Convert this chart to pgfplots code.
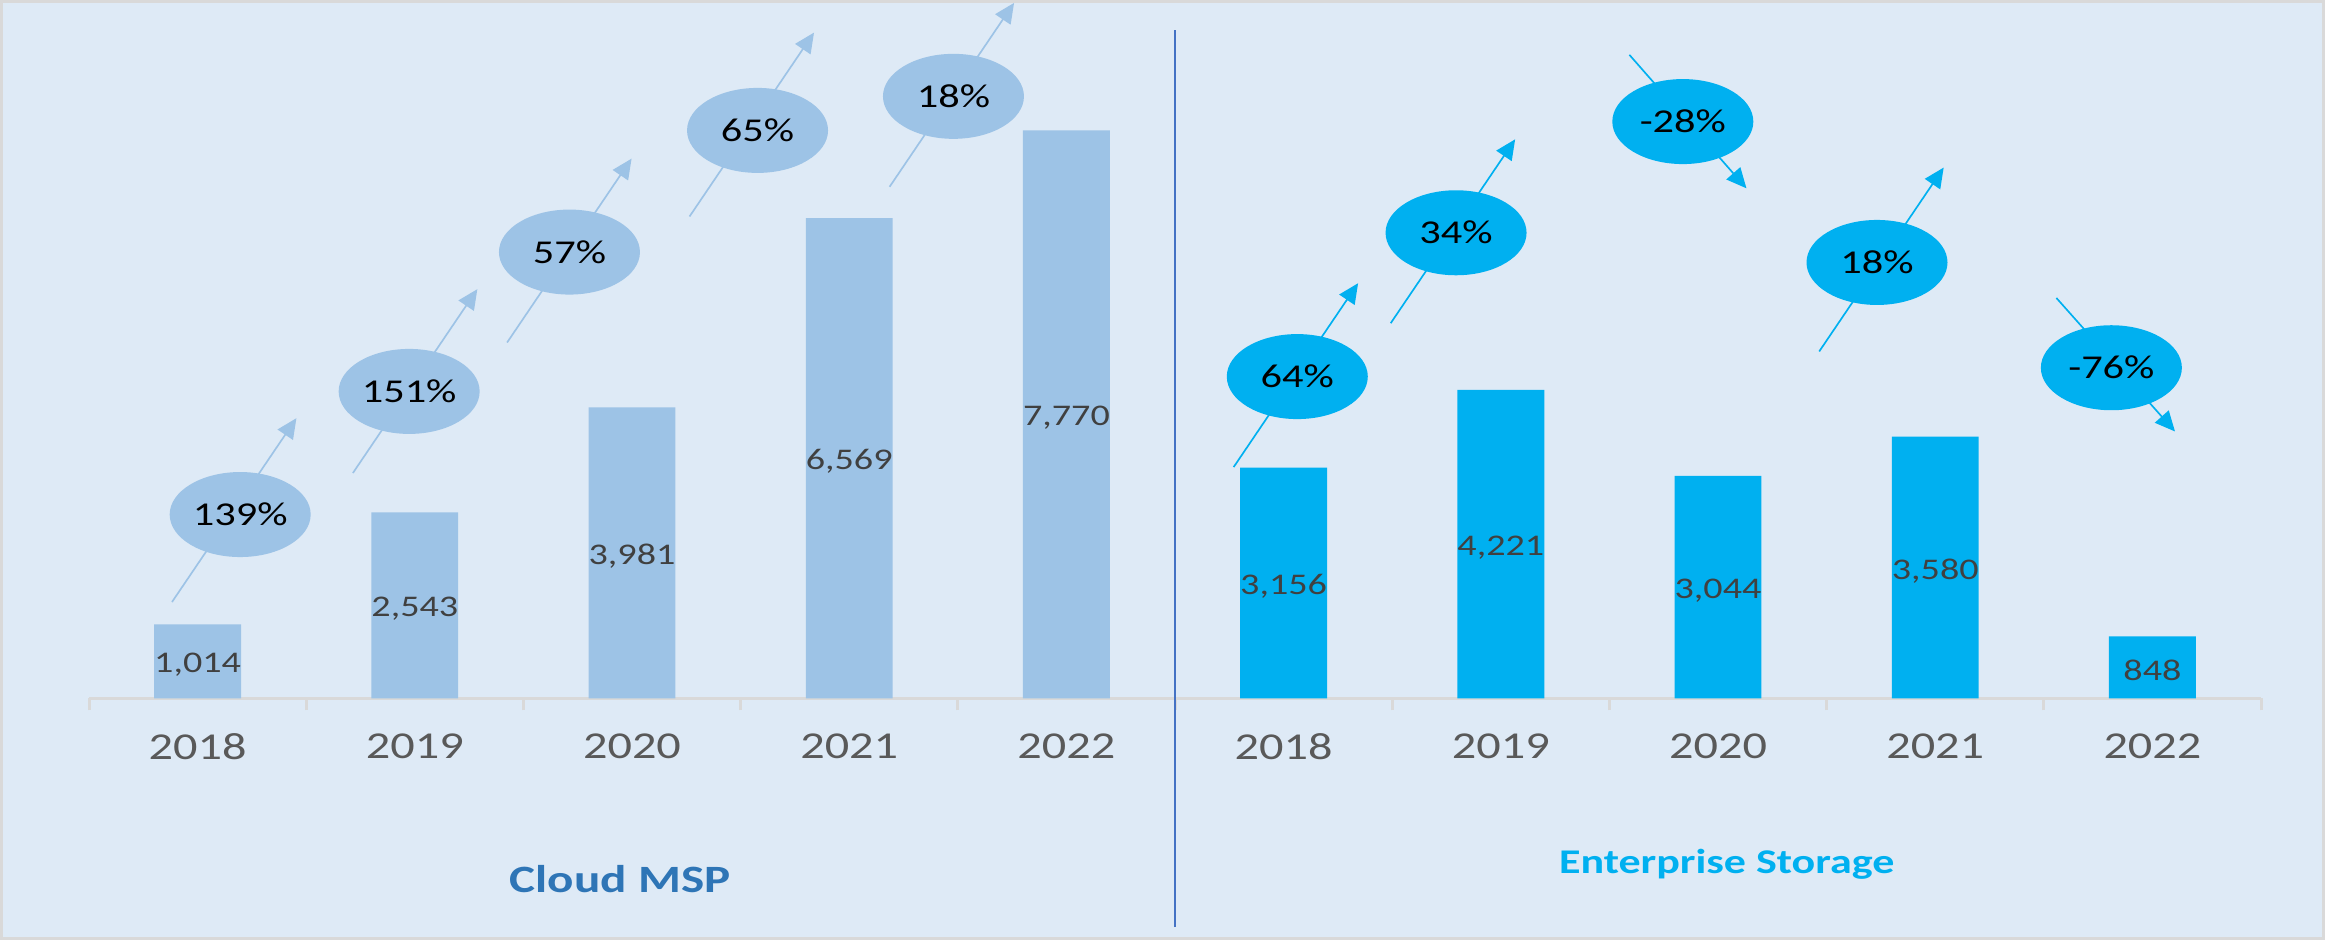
\documentclass[border=0pt]{standalone}
\usepackage{fontspec}
\setmainfont{Carlito}[FakeStretch=1.27]
\usepackage{pgfplots}
\usepackage{pgfplotstable}
\pgfplotsset{compat=1.18}
\usetikzlibrary{shapes.geometric, arrows.meta}

\definecolor{bgblue}{HTML}{DEEAF6}
\definecolor{bordergray}{HTML}{D9D9D9}
\definecolor{axisgray}{HTML}{D9D9D9}
\definecolor{lightbar}{HTML}{9DC3E6}
\definecolor{cyanbar}{HTML}{00B0F0}
\definecolor{ticktext}{HTML}{595959}
\definecolor{datatext}{HTML}{404040}
\definecolor{divider}{HTML}{4472C4}
\definecolor{cloudblue}{HTML}{2E75B6}

\pgfplotstableread{
x v
0 1014
1 2543
2 3981
3 6569
4 7770
}\cloud
\pgfplotstableread{
x v
5 3156
6 4221
7 3044
8 3580
9 848
}\storage
% growth bubbles (position, growth in percent)
\pgfplotstableread{
x y g
0.196 2515 139
0.974 4199 151
1.712 6105 57
2.578 7769 65
3.480 8235 18
}\cloudgrowth
\pgfplotstableread{
x y g
5.063 4402 64
5.794 6369 34
6.838 7890 -28
7.732 5963 18
8.811 4523 -76
}\storagegrowth
% arrows (start, delta)
\pgfplotstableread{
x y u v
-0.118 1318 0.573 2515
0.715 3083 0.573 2515
1.425 4868 0.573 2515
2.265 6592 0.573 2515
3.186 6998 0.573 2515
}\cloudarrows
\pgfplotstableread{
x y u v
4.770 3164 0.573 2515
5.493 5132 0.573 2515
6.592 8803 0.539 -1826
7.466 4746 0.573 2515
8.558 5477 0.546 -1826
}\storagearrows

\begin{document}
\begin{tikzpicture}
\useasboundingbox (0,0) rectangle (697.5pt,282pt);
\fill[bordergray] (0,0) rectangle (697.5pt,282pt);
\fill[bgblue] (1pt,1pt) rectangle (696.5pt,281pt);
\begin{axis}[
  at={(26.7pt,72.48pt)}, anchor=south west,
  scale only axis, width=651.6pt, height=197.4pt,
  xmin=-0.5, xmax=9.5, ymin=0, ymax=9000,
  clip=false,
  axis y line=none,
  axis x line*=bottom,
  x axis line style={draw=axisgray, line width=0.9pt, -},
  xtick={0,...,9},
  xticklabels={2018,2019,2020,2021,2022,2018,2019,2020,2021,2022},
  major tick length=0pt,
  tick align=outside,
  extra x ticks={-0.5,0.5,1.5,2.5,3.5,4.5,5.5,6.5,7.5,8.5,9.5},
  extra x tick labels={},
  extra x tick style={major tick length=3.6pt, tick style={draw=axisgray, line width=0.9pt}},
  xticklabel style={font=\fontsize{11.4}{13}\selectfont, text=ticktext, yshift=-7pt},
  /pgf/number format/assume math mode=true,
]
% bars
\addplot[ybar, bar width=0.4, bar shift=0pt, fill=lightbar, draw=none] table[x=x, y=v] {\cloud};
\addplot[ybar, bar width=0.4, bar shift=0pt, fill=cyanbar, draw=none] table[x=x, y=v] {\storage};
% value labels in the middle of each bar
\addplot[draw=none, point meta=explicit,
  nodes near coords={\pgfmathprintnumber[fixed, precision=0, 1000 sep={,}]{\pgfplotspointmeta}},
  every node near coord/.append style={anchor=center, yshift=-1pt, font=\fontsize{9}{11}\selectfont, text=datatext}]
  table[x=x, y expr=\thisrow{v}/2, meta=v] {\cloud};
\addplot[draw=none, point meta=explicit,
  nodes near coords={\pgfmathprintnumber[fixed, precision=0, 1000 sep={,}]{\pgfplotspointmeta}},
  every node near coord/.append style={anchor=center, yshift=-1pt, font=\fontsize{9}{11}\selectfont, text=datatext}]
  table[x=x, y expr=\thisrow{v}/2, meta=v] {\storage};
% arrows
\addplot[lightbar, line width=0.5pt, -{Triangle[length=6pt, width=5.5pt]},
  quiver={u=\thisrow{u}, v=\thisrow{v}}] table[x=x, y=y] {\cloudarrows};
\addplot[cyanbar, line width=0.5pt, -{Triangle[length=6pt, width=5.5pt]},
  quiver={u=\thisrow{u}, v=\thisrow{v}}] table[x=x, y=y] {\storagearrows};
% growth bubbles
\addplot[draw=none, point meta=explicit,
  nodes near coords={\pgfmathprintnumber[fixed, precision=0]{\pgfplotspointmeta}\%},
  every node near coord/.append style={anchor=center, ellipse, fill=lightbar, inner sep=0pt,
    minimum width=42.3pt, minimum height=25.5pt, font=\fontsize{10}{12}\selectfont, text=black}]
  table[x=x, y=y, meta=g] {\cloudgrowth};
\addplot[draw=none, point meta=explicit,
  nodes near coords={\pgfmathprintnumber[fixed, precision=0]{\pgfplotspointmeta}\%},
  every node near coord/.append style={anchor=center, ellipse, fill=cyanbar, inner sep=0pt,
    minimum width=42.3pt, minimum height=25.5pt, font=\fontsize{10}{12}\selectfont, text=black}]
  table[x=x, y=y, meta=g] {\storagegrowth};
% divider
\addplot[divider, line width=0.7pt] coordinates {(4.5,-3127) (4.5,9144)};
% group labels
\node[font=\bfseries\fontsize{11.6}{14}\selectfont, text=cloudblue] at (axis cs:1.945,-2471) {Cloud MSP};
\node[font=\bfseries\fontsize{10.4}{13}\selectfont, text=cyanbar] at (axis cs:7.04,-2265) {Enterprise Storage};
\end{axis}
\end{tikzpicture}
\end{document}
